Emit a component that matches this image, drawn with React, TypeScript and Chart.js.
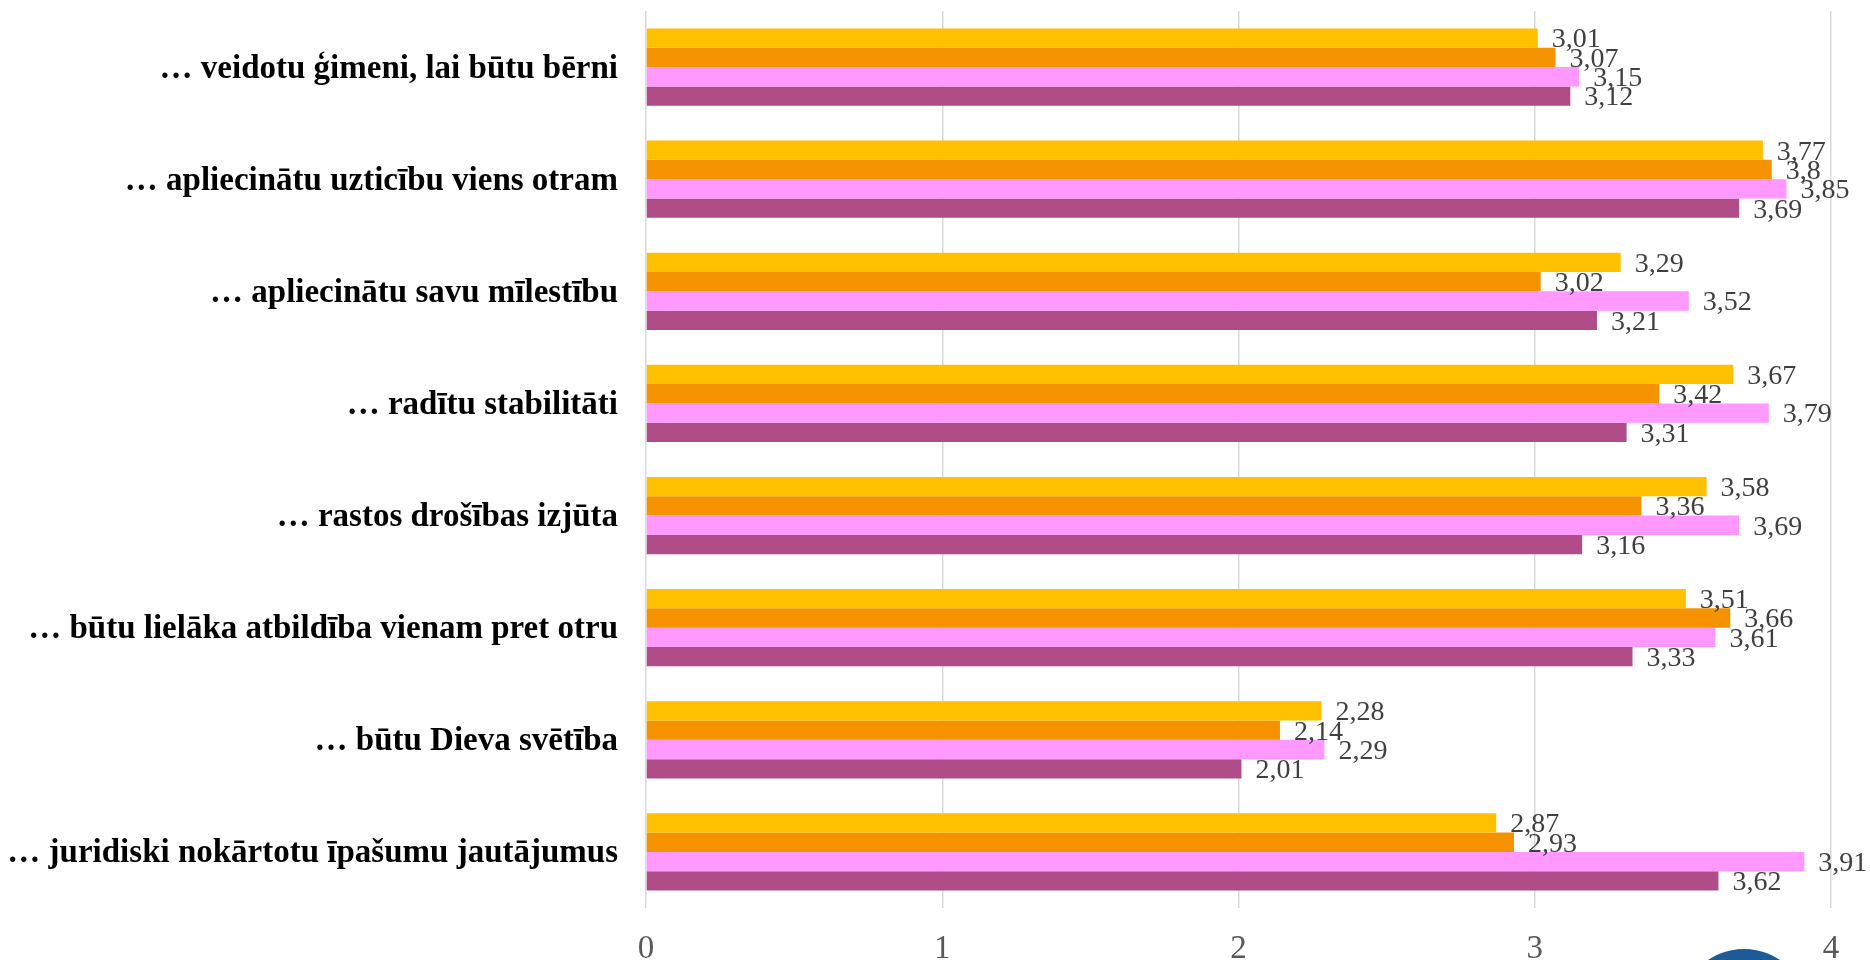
import React, { useEffect, useRef } from "react";
import { Chart, registerables } from "chart.js";

Chart.register(...registerables);

const categories = [
  "… veidotu ģimeni, lai būtu bērni",
  "… apliecinātu uzticību viens otram",
  "… apliecinātu savu mīlestību",
  "… radītu stabilitāti",
  "… rastos drošības izjūta",
  "… būtu lielāka atbildība vienam pret otru",
  "… būtu Dieva svētība",
  "… juridiski nokārtotu īpašumu jautājumus",
];

const series1 = [3.01, 3.77, 3.29, 3.67, 3.58, 3.51, 2.28, 2.87];
const series2 = [3.07, 3.8, 3.02, 3.42, 3.36, 3.66, 2.14, 2.93];
const series3 = [3.15, 3.85, 3.52, 3.79, 3.69, 3.61, 2.29, 3.91];
const series4 = [3.12, 3.69, 3.21, 3.31, 3.16, 3.33, 2.01, 3.62];

const seriesNames = ["1. grupa", "2. grupa", "3. grupa", "4. grupa"];
const seriesColors = ["#FFC000", "#F49200", "#FF99FF", "#B04C87"];

const xTicks = [0, 1, 2, 3, 4];

const SERIF = "'Liberation Serif', 'Times New Roman', serif";

const valueLabels = {
  id: "valueLabels",
  afterDatasetsDraw(chart: any) {
    const ctx = chart.ctx;
    ctx.save();
    ctx.font = `28px ${SERIF}`;
    ctx.fillStyle = "#404040";
    ctx.textAlign = "left";
    ctx.textBaseline = "middle";
    chart.data.datasets.forEach((ds: any, i: number) => {
      const meta = chart.getDatasetMeta(i);
      meta.data.forEach((el: any, j: number) => {
        const v = ds.data[j];
        const txt = String(v).replace(".", ",");
        ctx.fillText(txt, el.x + 14, el.y + 2);
      });
    });
    ctx.restore();
  },
};

export default function App() {
  const ref = useRef<HTMLCanvasElement>(null);

  useEffect(() => {
    if (!ref.current) return;
    const chart = new Chart(ref.current, {
      type: "bar",
      data: {
        labels: categories,
        datasets: [series1, series2, series3, series4].map((d, i) => ({
          label: seriesNames[i],
          data: d,
          backgroundColor: seriesColors[i],
          borderWidth: 0,
          categoryPercentage: 0.69,
          barPercentage: 1.0,
        })),
      },
      options: {
        indexAxis: "y",
        animation: false,
        responsive: false,
        maintainAspectRatio: false,
        layout: { padding: { top: 11, right: 39, left: 0, bottom: 0 } },
        plugins: {
          legend: { display: false },
          tooltip: { enabled: false },
          title: { display: false },
        },
        scales: {
          x: {
            min: 0,
            max: 4,
            afterFit: (s: any) => {
              s.height = 52;
              s.paddingLeft = 0;
              s.paddingRight = 0;
            },
            afterBuildTicks: (s: any) => {
              s.ticks = xTicks.map((v) => ({ value: v }));
            },
            grid: {
              color: "#d9d9d9",
              lineWidth: 1.5,
              drawTicks: false,
            },
            border: { display: false },
            ticks: {
              stepSize: 1,
              padding: 22,
              color: "#595959",
              font: { family: SERIF, size: 33 },
            },
          },
          y: {
            afterFit: (s: any) => {
              s.width = 646;
              s.paddingTop = 0;
              s.paddingBottom = 0;
            },
            grid: { display: false, drawTicks: false },
            border: { display: false },
            ticks: {
              padding: 28,
              labelOffset: 2,
              color: "#000000",
              font: { family: SERIF, size: 33, weight: "bold" },
            },
          },
        },
      },
      plugins: [valueLabels],
    });
    return () => chart.destroy();
  }, []);

  return (
    <div
      style={{
        position: "absolute",
        left: 0,
        top: 0,
        width: 1870,
        height: 960,
        overflow: "hidden",
        background: "#ffffff",
      }}
    >
      <canvas ref={ref} width={1870} height={960} style={{ display: "block" }} />
      <div
        style={{
          position: "absolute",
          left: 1680,
          top: 949,
          width: 128,
          height: 128,
          borderRadius: "50%",
          background: "#1D5A98",
        }}
      />
    </div>
  );
}
